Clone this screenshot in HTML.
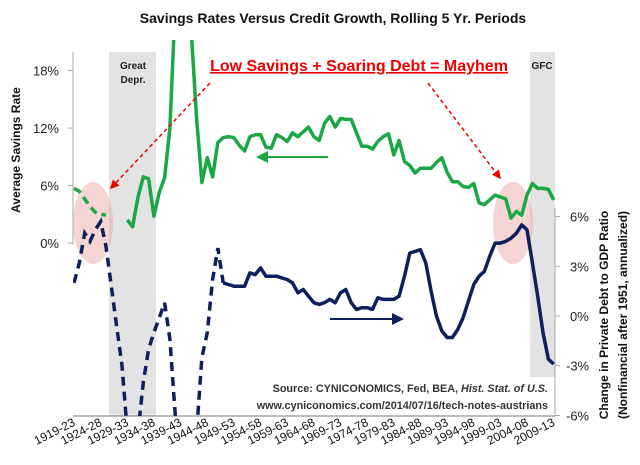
<!DOCTYPE html>
<html><head><meta charset="utf-8"><style>
body{margin:0;background:#fff;}
svg{display:block;font-family:"Liberation Sans",sans-serif;}
</style></head><body>
<svg width="640" height="465" viewBox="0 0 640 465">
<defs><clipPath id="pc"><rect x="73" y="40" width="483" height="376"/></clipPath>
<marker id="ag" markerWidth="6" markerHeight="6" refX="5" refY="3" orient="auto"><path d="M0,0L6,3L0,6z" fill="#1aa845"/></marker>
<marker id="ab" markerWidth="6" markerHeight="6" refX="5" refY="3" orient="auto"><path d="M0,0L6,3L0,6z" fill="#0d1f5c"/></marker>
<marker id="ar" markerWidth="6" markerHeight="6" refX="5" refY="3" orient="auto"><path d="M0,0L6,3L0,6z" fill="#e00"/></marker>
</defs>
<g id="bands"></g>
<g id="axes"></g>
<g id="series" clip-path="url(#pc)"></g>
<g id="labels"></g>
</svg>
<script>
const startYears = Array.from({length:91},(_,i)=>1919+i);
const tickLabels = ["1919-23","1924-28","1929-33","1934-38","1939-43","1944-48","1949-53","1954-58","1959-63","1964-68","1969-73","1974-78","1979-83","1984-88","1989-93","1994-98","1999-03","2004-08","2009-13"];
const leftTicks = [0,6,12,18];
const rightTicks = [-6,-3,0,3,6];
const savings = [5.7,5.4,4.6,3.8,3.2,3.0,2.9,null,null,null,
2.4,1.7,4.8,6.9,6.7,2.8,5.3,6.8,12,25,
30,30,22,13,6.3,8.9,6.9,10.5,11.0,11.1,
11.0,10.2,9.6,11.1,11.3,11.3,10.0,9.9,11.3,11.0,
10.6,11.5,11.1,11.6,12.1,11.1,10.7,12.5,13.2,12.1,
13.0,12.9,12.9,11.5,10.1,10.1,9.8,10.6,11.1,11.4,
9.2,10.7,8.5,8.1,7.3,7.8,7.8,7.8,8.4,8.9,
7.4,6.4,6.4,5.9,5.8,6.2,4.2,4.0,4.5,5.0,
4.8,4.6,2.6,3.3,2.9,5.0,6.2,5.7,5.7,5.6,4.5];
const debtChange = [2.0,3.2,5.0,4.5,5.2,5.7,4.2,1.8,-0.6,-3.0,
-7,-9,-7,-4.0,-2.0,-1.0,-0.1,0.8,-1.4,-6,
-9,-9,-9,-7,-2.5,-1.0,2.2,4.1,2.0,1.9,
1.8,1.8,1.8,2.6,2.5,2.9,2.4,2.4,2.4,2.3,
2.2,2.0,1.4,1.6,1.2,0.8,0.7,0.8,1.0,0.8,
1.4,1.6,0.8,0.4,0.5,0.5,0.4,1.1,1.0,1.0,
1.0,1.2,2.4,3.8,3.9,4.0,3.2,1.5,0.0,-0.9,
-1.3,-1.3,-0.8,-0.1,0.9,1.9,2.4,2.7,3.6,4.4,
4.4,4.5,4.7,5.0,5.5,5.2,3.2,1.2,-1.0,-2.6,-2.9];
const savingsDashedEnd = 6, debtDashedEnd = 28;

const NS="http://www.w3.org/2000/svg";
const xS=i=>74+i*5.33;
const yL=v=>243-v*9.58;
const yR=v=>316-v*16.57;
function mk(tag,attrs,parent,text){const e=document.createElementNS(NS,tag);for(const k in attrs)e.setAttribute(k,attrs[k]);if(text!=null)e.textContent=text;document.getElementById(parent).appendChild(e);return e;}

let e;
e=mk('rect',{x:109,y:52,width:47,height:364,fill:'#e3e3e3'},'bands');


e=mk('rect',{x:530,y:52,width:25,height:325,fill:'#e3e3e3'},'bands');


e=mk('ellipse',{cx:93,cy:223,rx:20,ry:41,fill:'rgba(232,160,160,0.45)'},'bands');


e=mk('ellipse',{cx:513,cy:223,rx:20,ry:41,fill:'rgba(232,160,160,0.45)'},'bands');



e=mk('line',{x1:73,y1:52,x2:73,y2:245,stroke:'#aaa'},'axes');


e=mk('line',{x1:73,y1:416,x2:555,y2:416,stroke:'#777'},'axes');


e=mk('line',{x1:555,y1:208,x2:555,y2:416,stroke:'#aaa'},'axes');


leftTicks.forEach(v=>{
 mk('line',{x1:68,y1:yL(v),x2:73,y2:yL(v),stroke:'#aaa'},'axes');
 e=mk('text',{x:59,y:yL(v)+5,'text-anchor':'end','font-size':13,fill:'#222'},'axes',v+'%');
 
 
});
rightTicks.forEach(v=>{
 mk('line',{x1:555,y1:yR(v),x2:560,y2:yR(v),stroke:'#aaa'},'axes');
 e=mk('text',{x:(v<0?566:570),y:yR(v)+5,'font-size':13,fill:'#222'},'axes',v+'%');
 
 
});
tickLabels.forEach((t,k)=>{
 const x=xS(k*5)+2;
 e=mk('text',{x:x,y:425,'text-anchor':'end','font-size':12,fill:'#111',transform:`rotate(-27 ${x} 425)`},'axes',t);
 
 
});

function path(arr,ys,from,to){let d='',pen=false;for(let i=from;i<=to;i++){const v=arr[i];if(v==null){pen=false;continue;}d+=(pen?'L':'M')+xS(i).toFixed(1)+','+ys(v).toFixed(1);pen=true;}return d;}
e=mk('path',{d:path(savings,yL,0,savingsDashedEnd),fill:'none',stroke:'#1aa845','stroke-width':3.5,'stroke-dasharray':'8,5'},'series');


e=mk('path',{d:path(savings,yL,savingsDashedEnd+1,90),fill:'none',stroke:'#1aa845','stroke-width':3.5,'stroke-linejoin':'round'},'series');


e=mk('path',{d:path(debtChange,yR,0,debtDashedEnd),fill:'none',stroke:'#0d1f5c','stroke-width':3.5,'stroke-dasharray':'9,6'},'series');


e=mk('path',{d:path(debtChange,yR,debtDashedEnd,90),fill:'none',stroke:'#0d1f5c','stroke-width':3.5,'stroke-linejoin':'round'},'series');



e=mk('text',{x:333,y:23,'text-anchor':'middle','font-size':14,'font-weight':'bold',fill:'#111'},'labels','Savings Rates Versus Credit Growth, Rolling 5 Yr. Periods');


e=mk('text',{x:359,y:71,'text-anchor':'middle','font-size':16,'font-weight':'bold',fill:'#e00','text-decoration':'underline'},'labels','Low Savings + Soaring Debt = Mayhem');


e=mk('line',{x1:210,y1:83,x2:111,y2:188,stroke:'#e00','stroke-width':1.5,'stroke-dasharray':'4,3','marker-end':'url(#ar)'},'labels');


e=mk('line',{x1:428,y1:83,x2:500,y2:178,stroke:'#e00','stroke-width':1.5,'stroke-dasharray':'4,3','marker-end':'url(#ar)'},'labels');


e=mk('line',{x1:328,y1:157,x2:258,y2:157,stroke:'#1aa845','stroke-width':2,'marker-end':'url(#ag)'},'labels');


e=mk('line',{x1:330,y1:319,x2:402,y2:319,stroke:'#0d1f5c','stroke-width':2,'marker-end':'url(#ab)'},'labels');


e=mk('text',{x:133,y:69,'text-anchor':'middle','font-size':10,'font-weight':'bold',fill:'#222'},'labels','Great');


mk('text',{x:133,y:83,'text-anchor':'middle','font-size':10,'font-weight':'bold',fill:'#222'},'labels','Depr.');
e=mk('text',{x:542,y:69,'text-anchor':'middle','font-size':10,'font-weight':'bold',fill:'#222'},'labels','GFC');


e=mk('text',{x:548,y:392,'text-anchor':'end','font-size':10.8,'font-weight':'bold',fill:'#333'},'labels');


e.innerHTML='Source: CYNICONOMICS, Fed, BEA, <tspan font-style="italic">Hist. Stat. of U.S.</tspan>';
e=mk('text',{x:548,y:409,'text-anchor':'end','font-size':10.8,'font-weight':'bold',fill:'#333'},'labels','www.cyniconomics.com/2014/07/16/tech-notes-austrians');


e=mk('text',{x:20,y:150,'text-anchor':'middle','font-size':12,'font-weight':'bold',fill:'#111',transform:'rotate(-90 20 150)'},'labels','Average Savings Rate');


e=mk('text',{x:608,y:315,'text-anchor':'middle','font-size':12,'font-weight':'bold',fill:'#111',transform:'rotate(-90 608 315)'},'labels','Change in Private Debt to GDP Ratio');


e=mk('text',{x:627,y:315,'text-anchor':'middle','font-size':12,'font-weight':'bold',fill:'#111',transform:'rotate(-90 627 315)'},'labels','(Nonfinancial after 1951, annualized)');


</script>
</body></html>
